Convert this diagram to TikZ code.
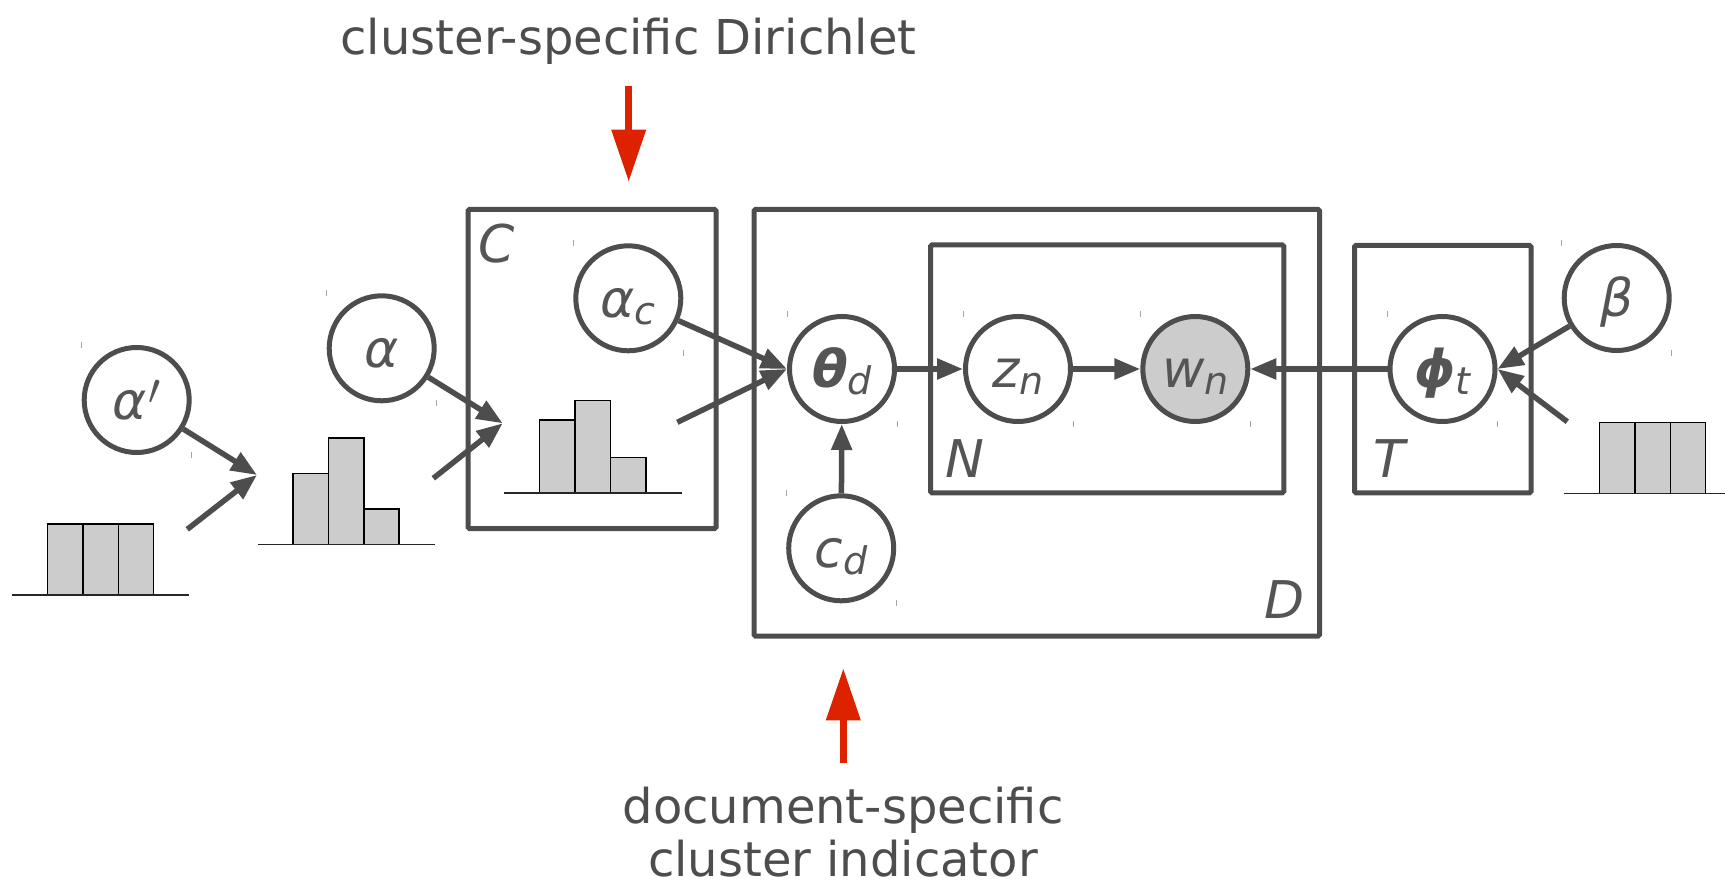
\documentclass[tikz,border=0pt]{standalone}
\usepackage{graphicx}
\usepackage{fontspec}
\setmainfont{DejaVu Sans}
\usetikzlibrary{arrows.meta,calc}
\definecolor{lc}{RGB}{77,77,77}
\definecolor{tc}{RGB}{85,85,85}
\definecolor{redc}{RGB}{221,34,0}
\definecolor{barc}{RGB}{204,204,204}
\newcommand{\lsub}[1]{\raisebox{-7pt}{\fontsize{38}{38}\selectfont #1}}
\newcommand{\lprime}{\kern2pt\raisebox{14pt}{\scalebox{1.75}{$\prime$}}}
\begin{document}
\begin{tikzpicture}[x=1pt,y=-1pt,
  var/.style={circle,draw=lc,line width=5pt,minimum size=105pt,inner sep=0pt,
    text=tc,font=\fontsize{52}{52}\selectfont\itshape,text height=38pt,text depth=0pt},
  obs/.style={var,fill=barc},
  plate/.style={draw=lc,line width=5pt,rounded corners=1.5pt},
  platelab/.style={text=tc,font=\fontsize{52}{52}\selectfont\itshape,inner sep=0pt},
  arr/.style={draw=lc,line width=5.5pt,-{Triangle[length=26pt,width=20pt]}},
  hbar/.style={fill=barc,draw=black,line width=1.5pt},
  hbase/.style={draw=black!85,line width=1.5pt},
  redarr/.style={draw=redc,line width=7pt,-{Triangle[length=52pt,width=33pt]}},
  note/.style={text=lc,font=\fontsize{48}{55}\selectfont,inner sep=0pt},
  bbtick/.style={draw=black!35,line width=1pt}
]
\useasboundingbox (0,0) rectangle (1725,885);

% plates
\draw[plate] (468,209.5) rectangle (716,528.5);
\draw[plate] (754,209.5) rectangle (1319.5,636);
\draw[plate] (930.5,245) rectangle (1283.8,492.8);
\draw[plate] (1354.5,245.5) rectangle (1531,492.8);
\node[platelab] (labC) at (496.7,243.3) {C};
\node[platelab] (labD) at (1285,600) {D};
\node[platelab] (labN) at (965,459) {N};
\node[platelab] (labT) at (1389,459) {T};

% histograms
\foreach \i in {0,1,2} \draw[hbar] ({47.7+35.33*\i},524) rectangle ++(35.33,71);
\draw[hbase] (12,595) -- (189,595);
\draw[hbar] (293,473.7) rectangle (328.4,544.3);
\draw[hbar] (328.4,438) rectangle (363.8,544.3);
\draw[hbar] (363.8,509) rectangle (399.2,544.3);
\draw[hbase] (257.7,544.3) -- (435,544.3);
\draw[hbar] (539.7,420) rectangle (575.1,493);
\draw[hbar] (575.1,400.7) rectangle (610.5,493);
\draw[hbar] (610.5,457.7) rectangle (645.9,493);
\draw[hbase] (504.3,493) -- (681.7,493);
\foreach \i in {0,1,2} \draw[hbar] ({1599.3+35.47*\i},422.3) rectangle ++(35.47,71);
\draw[hbase] (1564.3,493.3) -- (1725,493.3);

% variables
\node[var] (ap) at (136.7,400) {α\lprime};
\node[var] (a) at (381.7,348.3) {α};
\node[var] (ac) at (628.3,298.3) {α\lsub{c}};
\node[var] (theta) at (842,369) {{\bfseries θ}\lsub{d}};
\node[var] (z) at (1018,369) {z\lsub{n}};
\node[obs] (w) at (1195.3,369) {w\lsub{n}};
\node[var] (c) at (841.2,548.3) {c\lsub{d}};
\node[var] (phi) at (1442.5,369) {{\bfseries ϕ}\lsub{t}};
\node[var] (beta) at (1616.7,298) {β};

\foreach \n in {ap,a,ac,theta,z,w,c,phi,beta} {
  \draw[bbtick] ($(\n.west |- \n.north)+(0,-3)$) -- ($(\n.west |- \n.north)+(0,3)$);
  \draw[bbtick] ($(\n.east |- \n.south)+(0,-3)$) -- ($(\n.east |- \n.south)+(0,3)$);
}

% free connector ends
\coordinate (p1) at (257,475);
\coordinate (h1s) at (187.3,529.3);
\coordinate (p2) at (502.7,423.3);
\coordinate (h2s) at (433.3,478.3);
\coordinate (h3s) at (677.3,422.3);
\coordinate (h4s) at (1567.3,421.7);

% connectors
\draw[arr] (ap) -- (p1);
\draw[arr] (h1s) -- (p1);
\draw[arr] (a) -- (p2);
\draw[arr] (h2s) -- (p2);
\draw[arr] (ac) -- (theta.west);
\draw[arr] (h3s) -- (theta.west);
\draw[arr] (theta) -- (z);
\draw[arr] (z) -- (w);
\draw[arr] (phi) -- (w);
\draw[arr] (c) -- (theta);
\draw[arr] (beta) -- (phi.east);
\draw[arr] (h4s) -- (phi.east);

% annotations
\node[note,anchor=base] (toptxt) at (628.5,55) {cluster-specific Dirichlet};
\coordinate (r1s) at (628.7,86);
\coordinate (r1e) at (628.7,181.7);
\draw[redarr] (r1s) -- (r1e);
\node[note,anchor=base] (bt1) at (843,823) {document-specific};
\node[note,anchor=base] (bt2) at (843,876) {cluster indicator};
\coordinate (r2s) at (843.3,763.3);
\coordinate (r2e) at (843.3,668.3);
\draw[redarr] (r2s) -- (r2e);
\end{tikzpicture}
\end{document}
